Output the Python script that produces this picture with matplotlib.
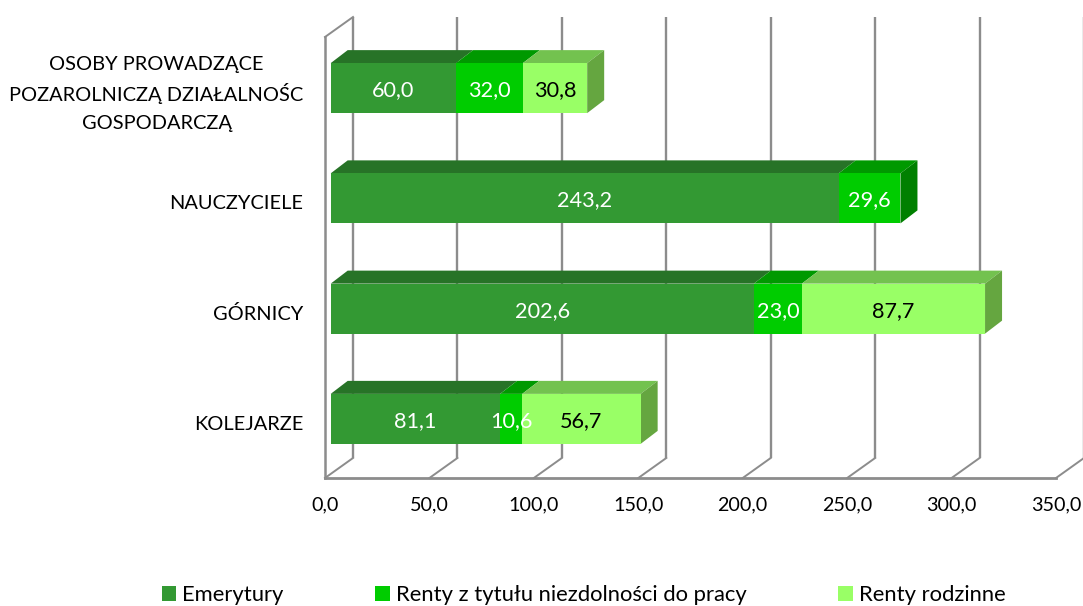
import numpy as np
import matplotlib
matplotlib.use('Agg')
import matplotlib.pyplot as plt
from matplotlib.patches import Polygon
from matplotlib.transforms import ScaledTranslation

categories = ['KOLEJARZE', 'GÓRNICY', 'NAUCZYCIELE',
              'OSOBY PROWADZĄCE\nPOZAROLNICZĄ DZIAŁALNOŚC\nGOSPODARCZĄ']
emerytury = [81.1, 202.6, 243.2, 60.0]
renty_niezdolnosc = [10.6, 23.0, 29.6, 32.0]
renty_rodzinne = [56.7, 87.7, 0.0, 30.8]
series_names = ['Emerytury', 'Renty z tytułu niezdolności do pracy', 'Renty rodzinne']
x_ticks = [0, 50, 100, 150, 200, 250, 300, 350]
x_labels = ['0,0', '50,0', '100,0', '150,0', '200,0', '250,0', '300,0', '350,0']

front_colors = ['#339933', '#00cc00', '#99ff66']
top_colors = ['#277327', '#009900', '#73c24f']
side_colors = ['#267326', '#008000', '#65a640']
text_colors = ['white', 'white', 'black']
grid_color = '#8c8c8c'

plt.rcParams['font.family'] = ['Lato', 'DejaVu Sans']
font_size = 14.4
value_size = 15.6
legend_size = 15.8

W, H = 1083, 606
fig = plt.figure(figsize=(W / 100, H / 100), dpi=100, facecolor='white')
# axes box = front plane of the fake 3D chart, in pixels
ax = fig.add_axes([325 / W, 1 - 478 / H, (1056 - 325) / W, (478 - 37) / H])
ax.set_xlim(0, 350)
ax.set_ylim(-0.5, 3.5)
ax.set_facecolor('none')
for s in ax.spines.values():
    s.set_visible(False)

px_x = 350 / (1056 - 325)  # data units per pixel
px_y = 4 / (478 - 37)

# back wall, floor and left wall
wall_dx = 28 * px_x
wall_dy = 20 * px_y
for t in x_ticks:
    ax.plot([t + wall_dx, t + wall_dx], [-0.5 + wall_dy, 3.5 + wall_dy], color=grid_color,
            lw=1.7, clip_on=False, zorder=1, solid_capstyle='butt')
    ax.plot([t, t + wall_dx], [-0.5, -0.5 + wall_dy], color=grid_color, lw=1.4, clip_on=False, zorder=1)
ax.plot([0, 350], [-0.5, -0.5], color=grid_color, lw=2, clip_on=False, zorder=2)
ax.plot([0, 0], [-0.5, 3.5], color=grid_color, lw=1.8, clip_on=False, zorder=2)
ax.plot([0, wall_dx], [3.5, 3.5 + wall_dy], color=grid_color, lw=1.4, clip_on=False, zorder=2)

# stacked bars with a top face and one side face
bar_x0 = 5.7 * px_x
bar_h = 50 * px_y
bar_up = 4 * px_y
depth_x = 17 * px_x
depth_y = 13 * px_y
y_pos = np.arange(len(categories)) + bar_up
left = np.full(len(categories), bar_x0)
text_shift = ax.transData + ScaledTranslation(0, -1.5 / 72, fig.dpi_scale_trans)

for i, vals in enumerate([emerytury, renty_niezdolnosc, renty_rodzinne]):
    vals = np.array(vals)
    ax.barh(y_pos, vals, height=bar_h, left=left, color=front_colors[i], label=series_names[i], zorder=4)
    for k, v in enumerate(vals):
        if v == 0:
            continue
        y_top = y_pos[k] + bar_h / 2
        y_bot = y_pos[k] - bar_h / 2
        x0 = left[k]
        x1 = x0 + v
        ax.add_patch(Polygon([(x0, y_top), (x1, y_top), (x1 + depth_x, y_top + depth_y), (x0 + depth_x, y_top + depth_y)],
                             fc=top_colors[i], ec='none', zorder=3))
        later = [emerytury, renty_niezdolnosc, renty_rodzinne][i + 1:]
        if all(s[k] == 0 for s in later):
            ax.add_patch(Polygon([(x1, y_top), (x1 + depth_x, y_top + depth_y), (x1 + depth_x, y_bot + depth_y), (x1, y_bot)],
                                 fc=side_colors[i], ec='none', zorder=3))
        ax.text(x0 + v / 2, y_pos[k], f'{v:.1f}'.replace('.', ','), ha='center', va='center',
                color=text_colors[i], fontsize=value_size, zorder=6, transform=text_shift)
    left = left + vals

ax.set_xticks(x_ticks)
ax.set_xticklabels(x_labels, fontsize=14.2, color='black')
ax.set_yticks(np.arange(len(categories)))
# matplotlib spaces lines unevenly with tall accents, so the outer lines of a
# long label are placed by hand around the tick label
ax.set_yticklabels([c.split('\n')[len(c.split('\n')) // 2] for c in categories], fontsize=font_size, color='black')
for k, c in enumerate(categories):
    lines = c.split('\n')
    if len(lines) == 3:
        for line, off in zip([lines[0], lines[2]], [29.5, -29.5]):
            ax.annotate(line, xy=(0, k), xycoords=('data', 'data'), xytext=(-168.5 * 0.72, off * 0.72),
                        textcoords='offset points', ha='center', va='center_baseline',
                        fontsize=font_size, color='black', annotation_clip=False)
ax.tick_params(axis='x', length=0, pad=13.5)
ax.tick_params(axis='y', length=0, pad=15.5)

fig.legend(loc='center', bbox_to_anchor=(583.5 / W, 1 - 595 / H), ncol=3, frameon=False, fontsize=legend_size,
           handlelength=0.65, handleheight=0.65, handletextpad=0.27, columnspacing=4.2, borderpad=0)

fig.savefig('out.png', dpi=100)
